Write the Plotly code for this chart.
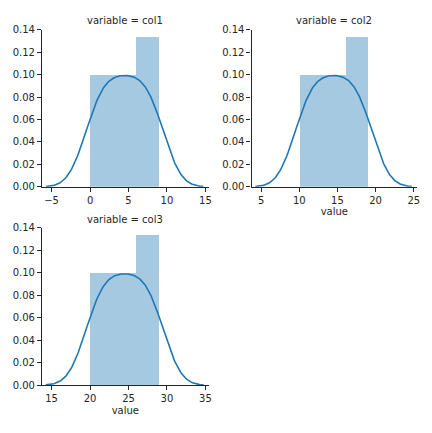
import numpy as np
import plotly.graph_objects as go

# raw data of the three columns (melted into variable/value in the original)
col1 = [0, 1, 2, 3, 4, 5, 6, 7, 8, 9]
col2 = [10, 11, 12, 13, 14, 15, 16, 17, 18, 19]
col3 = [20, 21, 22, 23, 24, 25, 26, 27, 28, 29]
names = ['col1', 'col2', 'col3']
n_bins = 3
y_ticks = [0.00, 0.02, 0.04, 0.06, 0.08, 0.10, 0.12, 0.14]

BLUE = '#1f77b4'
DARK = '#262626'
W, H = 432, 433

def kde(values, cut=3, gridsize=200):
    x = np.asarray(values, dtype=float)
    n = len(x)
    iqr = np.subtract(*np.percentile(x, [75, 25]))
    a = min(np.std(x), iqr / 1.349)
    bw = 1.059 * a * n ** (-0.2)
    grid = np.linspace(x.min() - cut * bw, x.max() + cut * bw, gridsize)
    dens = np.exp(-0.5 * ((grid[:, None] - x[None, :]) / bw) ** 2).sum(axis=1)
    dens = dens / (n * bw * np.sqrt(2 * np.pi))
    return grid, dens

# panel boxes in pixels: (left, right, top, bottom)
boxes = [(42.3, 210.2, 24.3, 186.0),
         (253.3, 420.0, 24.3, 186.0),
         (42.3, 210.2, 228.3, 390.0)]

fig = go.Figure()
layout = dict(width=W, height=H, margin=dict(l=0, r=0, t=0, b=0),
              paper_bgcolor='white', plot_bgcolor='white',
              showlegend=False, bargap=0,
              font=dict(family='DejaVu Sans', size=10, color=DARK))
annotations = []

for i, (name, data) in enumerate(zip(names, [col1, col2, col3])):
    ax = '' if i == 0 else str(i + 1)
    left, right, top, bottom = boxes[i]

    counts, edges = np.histogram(data, bins=n_bins, density=True)
    centers = (edges[:-1] + edges[1:]) / 2
    fig.add_trace(go.Bar(x=centers, y=counts, width=np.diff(edges),
                         marker=dict(color='rgba(31,119,180,0.4)', line=dict(width=0)),
                         xaxis='x' + ax, yaxis='y' + ax, hoverinfo='skip'))
    gx, gy = kde(data)
    fig.add_trace(go.Scatter(x=gx, y=gy, mode='lines',
                             line=dict(color=BLUE, width=1.6),
                             xaxis='x' + ax, yaxis='y' + ax))

    lo = min(data)
    xr = [lo - 6.25, lo + 15.43]
    ticks = [lo - 5, lo, lo + 5, lo + 10, lo + 15]
    axis_common = dict(showline=True, linecolor=DARK, linewidth=1.1,
                       ticks='outside', ticklen=4, tickwidth=1, tickcolor=DARK,
                       showgrid=False, zeroline=False,
                       tickfont=dict(size=10, color=DARK))
    layout['xaxis' + ax] = dict(domain=[left / W, right / W], range=xr,
                                tickvals=ticks, ticktext=[str(t).replace('-', '\u2212') for t in ticks],
                                anchor='y' + ax, **axis_common)
    if i > 0:
        layout['xaxis' + ax]['title'] = dict(text='value', font=dict(size=10, color=DARK), standoff=3)
    layout['yaxis' + ax] = dict(domain=[1 - bottom / H, 1 - top / H], range=[0, 0.14],
                                tickvals=y_ticks, ticktext=['%.2f' % v for v in y_ticks],
                                anchor='x' + ax, **axis_common)
    annotations.append(dict(text='variable = ' + name, xref='paper', yref='paper',
                            x=(left + right) / 2 / W, y=1 - (top - 9) / H,
                            xanchor='center', yanchor='middle', showarrow=False,
                            font=dict(size=10, color=DARK)))

layout['annotations'] = annotations
fig.update_layout(**layout)
# page body has an 8px default margin; drop it so the figure fills the window
fig.write_html("out.html", config={'displayModeBar': False},
               post_script="document.body.style.margin='0';")
